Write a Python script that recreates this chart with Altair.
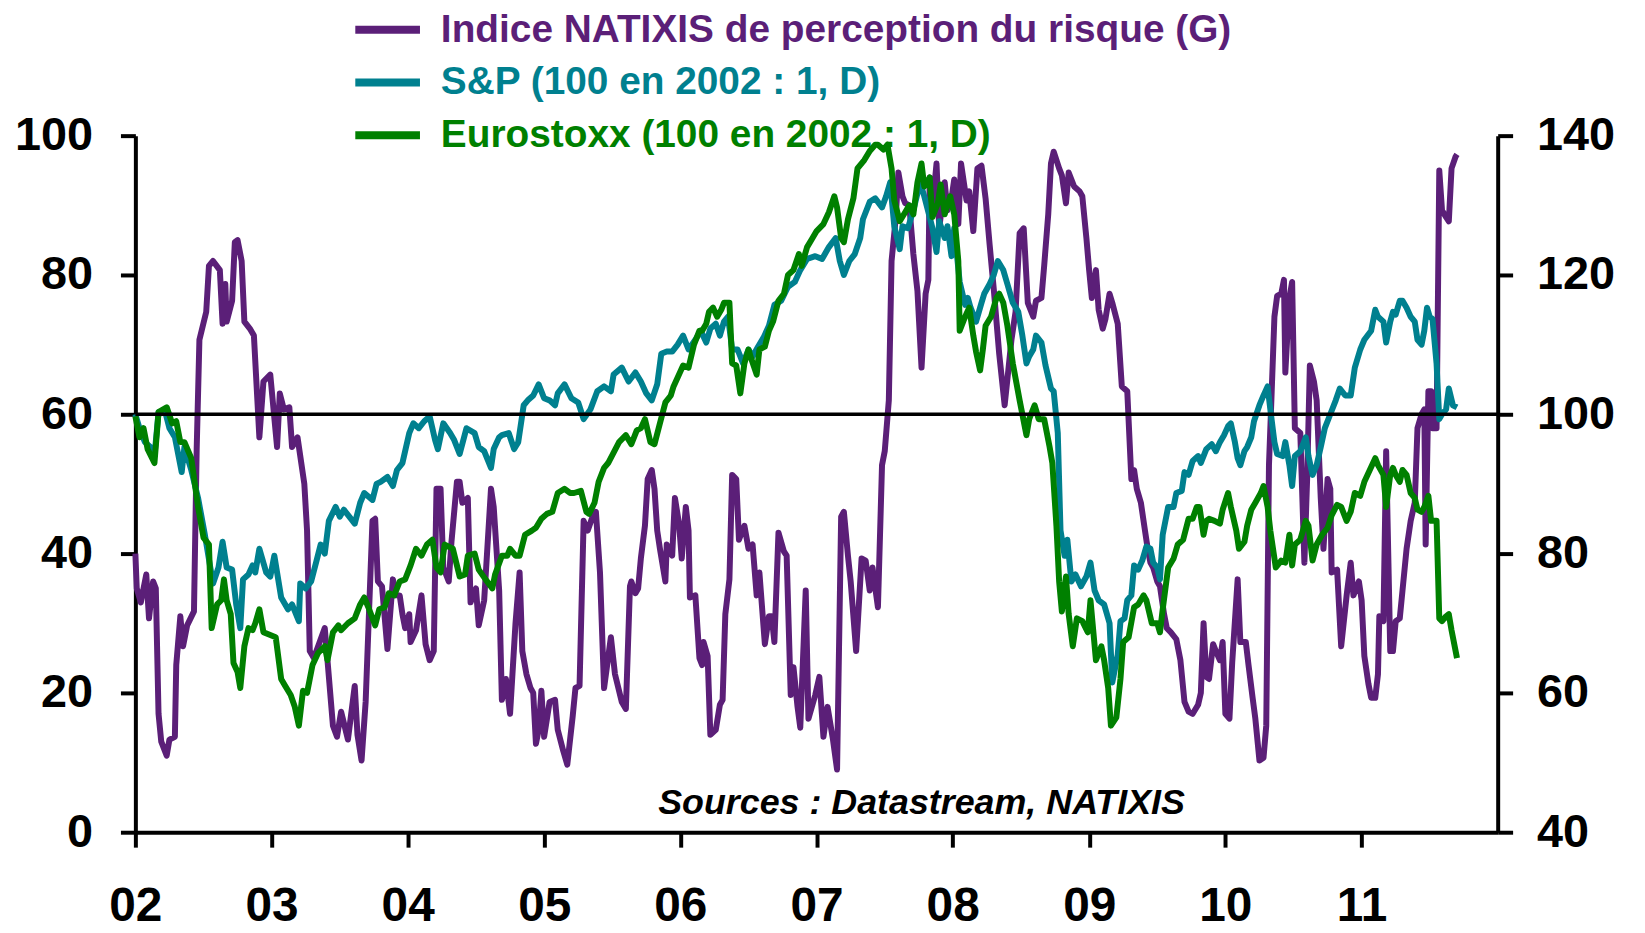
import altair as alt
import pandas as pd

FONT = "Liberation Sans"
SERIES = [
    "Indice NATIXIS de perception du risque (G)",
    "S&P (100 en 2002 : 1, D)",
    "Eurostoxx (100 en 2002 : 1, D)",
]
COLORS = ["#5B1F78", "#00808F", "#008000"]
SOURCE = "Sources : Datastream, NATIXIS"
YEAR_TICKS = list(range(2002, 2012))
LEFT_TICKS = [0, 20, 40, 60, 80, 100]
RIGHT_TICKS = [40, 60, 80, 100, 120, 140]

# (fractional year, value)
natixis = [
    (2002.00, 40), (2002.01, 35), (2002.04, 33), (2002.08, 37), (2002.10, 30.7), (2002.13, 36),
    (2002.15, 35), (2002.17, 17), (2002.19, 13), (2002.23, 11), (2002.25, 13.3), (2002.29, 13.7),
    (2002.30, 24), (2002.33, 31), (2002.35, 26.7), (2002.38, 29.7), (2002.43, 31.7), (2002.45, 55),
    (2002.47, 70.7), (2002.52, 74.7), (2002.54, 81.3), (2002.57, 82), (2002.62, 80.7), (2002.64, 73),
    (2002.66, 78.7), (2002.67, 73.3), (2002.71, 76.3), (2002.73, 84.7), (2002.75, 85), (2002.78, 82),
    (2002.80, 73.3), (2002.84, 72.3), (2002.87, 71.3), (2002.91, 56.7), (2002.94, 64.7), (2002.99, 65.7),
    (2003.04, 55.3), (2003.06, 63), (2003.09, 60.7), (2003.13, 61), (2003.15, 55.3), (2003.19, 56.7),
    (2003.24, 50), (2003.26, 43.3), (2003.28, 26), (2003.31, 25), (2003.39, 29.3), (2003.41, 24.7),
    (2003.45, 15.3), (2003.48, 13.7), (2003.51, 17.3), (2003.56, 13.3), (2003.61, 21), (2003.63, 14),
    (2003.66, 10.3), (2003.69, 18.7), (2003.74, 44.7), (2003.76, 45), (2003.78, 36), (2003.81, 35.3),
    (2003.85, 26.3), (2003.89, 36.3), (2003.91, 34), (2003.94, 34), (2003.96, 31.3), (2003.98, 29.3),
    (2004.01, 31.3), (2004.02, 27.3), (2004.06, 29), (2004.10, 34), (2004.13, 27), (2004.16, 24.7),
    (2004.19, 26), (2004.21, 49.3), (2004.24, 49.3), (2004.26, 38), (2004.30, 36), (2004.32, 41.7),
    (2004.36, 50.3), (2004.38, 50.3), (2004.40, 47.3), (2004.44, 48), (2004.46, 33), (2004.50, 35),
    (2004.52, 29.7), (2004.56, 33.3), (2004.61, 49.3), (2004.63, 46.7), (2004.67, 34.7), (2004.69, 19),
    (2004.72, 22), (2004.75, 17), (2004.79, 30), (2004.82, 37.3), (2004.84, 26), (2004.87, 22.7),
    (2004.90, 20.7), (2004.92, 20), (2004.94, 12.7), (2004.96, 14.7), (2004.98, 20.3), (2005.00, 13.7),
    (2005.04, 18.7), (2005.08, 19), (2005.10, 14.7), (2005.14, 11.7), (2005.17, 9.7), (2005.21, 16.7),
    (2005.23, 20.7), (2005.26, 21), (2005.29, 44.7), (2005.32, 43.3), (2005.35, 45), (2005.38, 46),
    (2005.41, 37.3), (2005.44, 20.7), (2005.49, 28), (2005.52, 22.7), (2005.57, 18.7), (2005.60, 17.7),
    (2005.63, 35.3), (2005.64, 36), (2005.67, 34.3), (2005.69, 35), (2005.71, 39.3), (2005.74, 44),
    (2005.76, 50.7), (2005.79, 52), (2005.81, 49.3), (2005.83, 43.3), (2005.85, 40.7), (2005.89, 36),
    (2005.90, 41.3), (2005.94, 39.7), (2005.96, 48), (2005.99, 44.3), (2006.01, 39.3), (2006.04, 46.7),
    (2006.06, 43.3), (2006.07, 33.7), (2006.11, 34), (2006.14, 25), (2006.16, 24), (2006.17, 27.3),
    (2006.20, 25.3), (2006.22, 14), (2006.26, 14.7), (2006.29, 18.3), (2006.31, 19), (2006.33, 31.3),
    (2006.36, 36.3), (2006.38, 51.3), (2006.41, 50.7), (2006.43, 42), (2006.47, 44), (2006.50, 40.7),
    (2006.53, 41.3), (2006.56, 34), (2006.58, 37.3), (2006.62, 27), (2006.65, 31), (2006.67, 31),
    (2006.69, 27.3), (2006.72, 43), (2006.76, 40.3), (2006.78, 39.7), (2006.81, 19.7), (2006.83, 23.7),
    (2006.86, 18), (2006.88, 15), (2006.92, 34.7), (2006.94, 16.3), (2006.99, 19.7), (2007.02, 22.3),
    (2007.05, 13.7), (2007.08, 18), (2007.12, 13.3), (2007.15, 9), (2007.18, 45.3), (2007.20, 46),
    (2007.23, 39.7), (2007.25, 36), (2007.29, 26), (2007.33, 39.3), (2007.36, 39), (2007.39, 34.7),
    (2007.41, 38), (2007.45, 32.3), (2007.48, 52.7), (2007.50, 54.7), (2007.53, 62), (2007.55, 82),
    (2007.58, 88), (2007.60, 94.7), (2007.63, 91.3), (2007.65, 90.3), (2007.68, 90), (2007.71, 83),
    (2007.74, 77.7), (2007.77, 66.7), (2007.80, 77.3), (2007.82, 79.3), (2007.83, 94), (2007.85, 89.7),
    (2007.88, 96), (2007.90, 86.7), (2007.94, 93.3), (2007.96, 89.3), (2007.99, 91), (2008.01, 93.7),
    (2008.04, 87.3), (2008.06, 96), (2008.10, 90.7), (2008.12, 92), (2008.15, 86.3), (2008.18, 95.3),
    (2008.21, 95.7), (2008.24, 91), (2008.27, 84.3), (2008.30, 78), (2008.34, 68.7), (2008.38, 61.3),
    (2008.40, 65), (2008.43, 70.7), (2008.46, 74.7), (2008.49, 86), (2008.52, 86.7), (2008.55, 76),
    (2008.59, 74), (2008.61, 76.3), (2008.65, 76.7), (2008.67, 81.3), (2008.70, 88.7), (2008.72, 96),
    (2008.74, 97.7), (2008.78, 95.3), (2008.80, 94.3), (2008.83, 90.3), (2008.85, 94.7), (2008.89, 92.7),
    (2008.93, 92), (2008.95, 91.3), (2008.98, 85.3), (2009.00, 80.7), (2009.02, 76.7), (2009.05, 80.7),
    (2009.07, 75), (2009.10, 72.3), (2009.12, 73.7), (2009.15, 77.3), (2009.17, 76), (2009.21, 73),
    (2009.24, 64), (2009.28, 63.3), (2009.31, 50.7), (2009.33, 52), (2009.35, 49.3), (2009.38, 47.3),
    (2009.41, 43.3), (2009.43, 40.7), (2009.45, 38.7), (2009.47, 38), (2009.50, 36), (2009.52, 35.3),
    (2009.55, 31.3), (2009.57, 29.3), (2009.60, 28.7), (2009.64, 27.7), (2009.67, 24.7), (2009.70, 18.7),
    (2009.73, 17.3), (2009.76, 17), (2009.80, 18.3), (2009.82, 20), (2009.84, 30), (2009.86, 22.3),
    (2009.88, 22), (2009.91, 27), (2009.93, 26), (2009.96, 24.7), (2009.98, 27.3), (2010.00, 17),
    (2010.03, 16.3), (2010.05, 24.3), (2010.09, 36.3), (2010.11, 27.3), (2010.15, 27.3), (2010.17, 24),
    (2010.20, 19.3), (2010.22, 16.3), (2010.25, 10.3), (2010.28, 10.7), (2010.30, 15.3), (2010.32, 52.7),
    (2010.34, 63.3), (2010.36, 74), (2010.38, 77), (2010.41, 77.3), (2010.43, 79.3), (2010.44, 66),
    (2010.47, 76.7), (2010.49, 79), (2010.51, 58), (2010.55, 57.3), (2010.58, 38.7), (2010.60, 50.7),
    (2010.62, 67), (2010.65, 64.7), (2010.67, 62), (2010.70, 48), (2010.72, 40.7), (2010.75, 50.7),
    (2010.77, 49.3), (2010.78, 37.3), (2010.82, 37.7), (2010.85, 26.7), (2010.89, 34), (2010.92, 38.7),
    (2010.94, 34), (2010.98, 36), (2011.00, 33.3), (2011.02, 25.3), (2011.05, 21.3), (2011.07, 19.3),
    (2011.10, 19.3), (2011.12, 22.7), (2011.13, 31), (2011.16, 30.3), (2011.18, 54.7), (2011.21, 26),
    (2011.23, 26), (2011.25, 30.3), (2011.28, 30.7), (2011.30, 34.7), (2011.33, 40.7), (2011.36, 44.7),
    (2011.39, 47.3), (2011.41, 58), (2011.44, 60), (2011.46, 60.7), (2011.47, 41.3), (2011.49, 63.3),
    (2011.51, 63.3), (2011.52, 58), (2011.55, 58), (2011.57, 95), (2011.59, 89.3), (2011.62, 88.3),
    (2011.64, 87.7), (2011.66, 95.3), (2011.69, 97), (2011.70, 97.3),
]

sp500 = [
    (2002.00, 100), (2002.03, 98), (2002.07, 96), (2002.11, 95.3), (2002.14, 94), (2002.17, 100.3),
    (2002.22, 100.3), (2002.25, 98), (2002.29, 96.7), (2002.34, 91.7), (2002.36, 95.3), (2002.41, 92),
    (2002.46, 88), (2002.51, 82.7), (2002.55, 78), (2002.57, 75.7), (2002.61, 78), (2002.64, 81.7),
    (2002.67, 78), (2002.71, 77.7), (2002.74, 72.7), (2002.77, 69.3), (2002.79, 76.3), (2002.83, 77),
    (2002.86, 78.3), (2002.88, 77.3), (2002.91, 80.7), (2002.96, 77.3), (2002.99, 76.7), (2003.02, 79.7),
    (2003.07, 73.7), (2003.12, 72), (2003.15, 72.7), (2003.20, 70.3), (2003.21, 75.7), (2003.25, 75),
    (2003.29, 76), (2003.33, 79), (2003.36, 81.3), (2003.39, 80), (2003.42, 84.7), (2003.47, 86.7),
    (2003.50, 85.3), (2003.53, 86.3), (2003.61, 84.3), (2003.65, 87.3), (2003.68, 88.7), (2003.74, 87.7),
    (2003.77, 90), (2003.80, 90.3), (2003.85, 91), (2003.89, 89.7), (2003.92, 92), (2003.96, 93),
    (2004.01, 97.3), (2004.04, 98.7), (2004.08, 98), (2004.12, 99), (2004.16, 99.7), (2004.20, 96.3),
    (2004.22, 95), (2004.26, 98.7), (2004.31, 97.3), (2004.34, 96.3), (2004.38, 94.3), (2004.43, 98),
    (2004.49, 97.3), (2004.52, 95.3), (2004.56, 94.7), (2004.61, 92.3), (2004.63, 95), (2004.67, 96.7),
    (2004.69, 97), (2004.74, 97.3), (2004.78, 95), (2004.81, 96), (2004.85, 101.3), (2004.88, 102),
    (2004.92, 102.7), (2004.96, 104.3), (2005.00, 102.3), (2005.04, 102), (2005.08, 101.3), (2005.10, 103),
    (2005.15, 104.3), (2005.20, 102.3), (2005.25, 101.7), (2005.29, 99.3), (2005.34, 100.7), (2005.39, 103.3),
    (2005.44, 104), (2005.49, 103.3), (2005.51, 105.7), (2005.57, 106.7), (2005.62, 104.7), (2005.67, 106),
    (2005.71, 104.7), (2005.75, 103), (2005.79, 102), (2005.83, 104.3), (2005.86, 108.7), (2005.90, 109),
    (2005.94, 109), (2005.98, 110), (2006.02, 111.3), (2006.06, 109.3), (2006.11, 110.7), (2006.15, 112),
    (2006.19, 110.3), (2006.22, 112.3), (2006.26, 113), (2006.29, 111.3), (2006.32, 113.3), (2006.35, 114),
    (2006.38, 109.3), (2006.42, 109.3), (2006.46, 107.3), (2006.50, 109.3), (2006.53, 108.3), (2006.57, 109.7),
    (2006.61, 111), (2006.65, 112.7), (2006.69, 115.7), (2006.74, 116.3), (2006.79, 118.3), (2006.84, 119),
    (2006.88, 120.7), (2006.93, 122.3), (2006.99, 122.7), (2007.04, 122.3), (2007.09, 124), (2007.14, 125.3),
    (2007.17, 122), (2007.20, 120), (2007.24, 122), (2007.28, 123), (2007.32, 125.3), (2007.34, 128),
    (2007.39, 130.5), (2007.43, 131), (2007.48, 129.7), (2007.51, 131.3), (2007.54, 133.3), (2007.57, 127),
    (2007.61, 123.7), (2007.63, 127), (2007.67, 126.7), (2007.71, 129.3), (2007.76, 133.3), (2007.79, 131.3),
    (2007.83, 128.3), (2007.85, 126.7), (2007.88, 123.3), (2007.90, 127.7), (2007.94, 125.3), (2007.96, 127),
    (2007.99, 122.7), (2008.01, 126.7), (2008.05, 119), (2008.09, 115.7), (2008.11, 116.7), (2008.13, 115.3),
    (2008.17, 113.3), (2008.21, 116), (2008.23, 117.3), (2008.27, 118.7), (2008.30, 120), (2008.33, 122),
    (2008.37, 120.7), (2008.40, 118.7), (2008.44, 116), (2008.48, 114.7), (2008.51, 111.3), (2008.54, 107.3),
    (2008.56, 108.3), (2008.59, 109.3), (2008.61, 111.3), (2008.65, 110.3), (2008.68, 107), (2008.72, 103.7),
    (2008.74, 103.3), (2008.77, 97.3), (2008.79, 83.3), (2008.82, 79.7), (2008.84, 82), (2008.87, 76),
    (2008.90, 77), (2008.94, 75.3), (2008.98, 76.7), (2009.01, 78.7), (2009.04, 74.7), (2009.07, 73.3),
    (2009.11, 72.7), (2009.15, 70), (2009.17, 61.5), (2009.21, 65.5), (2009.23, 70.3), (2009.26, 70.7),
    (2009.28, 73.3), (2009.31, 74), (2009.33, 78.3), (2009.36, 77.7), (2009.39, 79), (2009.42, 81),
    (2009.45, 80.7), (2009.47, 78.7), (2009.50, 78), (2009.52, 76.3), (2009.54, 82.7), (2009.58, 86.7),
    (2009.62, 86.7), (2009.64, 88.7), (2009.68, 89), (2009.70, 91.7), (2009.73, 91.3), (2009.76, 93.3),
    (2009.80, 94), (2009.82, 93), (2009.86, 95), (2009.90, 95.7), (2009.93, 94.7), (2009.96, 96),
    (2009.99, 97), (2010.02, 98.3), (2010.04, 98.7), (2010.07, 96), (2010.09, 93.7), (2010.11, 92.7),
    (2010.14, 94.7), (2010.16, 95.3), (2010.19, 96.7), (2010.21, 99), (2010.25, 101.3), (2010.28, 102.7),
    (2010.31, 104), (2010.33, 100.7), (2010.36, 96), (2010.38, 94.3), (2010.42, 94), (2010.44, 96),
    (2010.47, 92.7), (2010.49, 89.7), (2010.51, 94), (2010.55, 94.7), (2010.59, 96.7), (2010.61, 94),
    (2010.64, 91.3), (2010.67, 92.7), (2010.70, 95.3), (2010.73, 98), (2010.77, 100), (2010.81, 102),
    (2010.84, 103.7), (2010.88, 102.7), (2010.92, 102.7), (2010.95, 106.7), (2010.99, 109.3), (2011.02, 110.7),
    (2011.07, 112), (2011.10, 115), (2011.12, 114), (2011.16, 113.3), (2011.18, 110.3), (2011.21, 113.3),
    (2011.23, 114.7), (2011.25, 114.3), (2011.28, 116.3), (2011.30, 116.3), (2011.33, 115.3), (2011.36, 114),
    (2011.39, 113.3), (2011.41, 110.7), (2011.44, 110), (2011.46, 112), (2011.48, 115.3), (2011.50, 114),
    (2011.52, 113.7), (2011.55, 107.3), (2011.57, 99.3), (2011.59, 100), (2011.62, 100.7), (2011.64, 103.7),
    (2011.67, 101.3), (2011.70, 101),
]

eurostoxx = [
    (2002.00, 99.7), (2002.03, 96.7), (2002.06, 98), (2002.09, 95), (2002.14, 93), (2002.17, 100.3),
    (2002.23, 101), (2002.27, 98.7), (2002.30, 99), (2002.33, 96), (2002.36, 96), (2002.41, 93.7),
    (2002.46, 86.7), (2002.50, 82.3), (2002.54, 81.3), (2002.56, 69.3), (2002.60, 72.7), (2002.63, 73.3),
    (2002.65, 76.3), (2002.67, 73.3), (2002.70, 71.3), (2002.72, 64.3), (2002.75, 63), (2002.77, 60.7),
    (2002.80, 66.7), (2002.83, 69.3), (2002.86, 69), (2002.88, 70), (2002.91, 72), (2002.94, 68.7),
    (2002.99, 68.3), (2003.03, 68), (2003.07, 62), (2003.10, 61), (2003.14, 59.7), (2003.17, 58),
    (2003.20, 55.3), (2003.23, 60.3), (2003.26, 60), (2003.30, 64), (2003.34, 65.7), (2003.39, 66.7),
    (2003.41, 64.7), (2003.45, 68.7), (2003.49, 69.7), (2003.51, 69), (2003.56, 70), (2003.61, 70.7),
    (2003.65, 72.7), (2003.68, 73.7), (2003.71, 72.3), (2003.76, 69.7), (2003.79, 72), (2003.83, 72.3),
    (2003.86, 74.3), (2003.90, 74), (2003.94, 76), (2003.98, 76.3), (2004.02, 78.3), (2004.06, 80.7),
    (2004.10, 79.7), (2004.14, 81.3), (2004.18, 82), (2004.21, 78), (2004.24, 77.3), (2004.27, 81.3),
    (2004.33, 80.7), (2004.38, 76.7), (2004.42, 77), (2004.44, 79.7), (2004.49, 80), (2004.52, 77.7),
    (2004.57, 76.3), (2004.62, 75), (2004.64, 77), (2004.69, 79.7), (2004.73, 79.7), (2004.75, 80.7),
    (2004.79, 79.7), (2004.82, 79.7), (2004.86, 82.7), (2004.91, 83.3), (2004.94, 83.7), (2004.98, 85),
    (2005.02, 85.7), (2005.06, 86), (2005.10, 88.7), (2005.15, 89.3), (2005.19, 88.7), (2005.22, 88.7),
    (2005.27, 89), (2005.31, 86), (2005.33, 85.7), (2005.37, 87.3), (2005.40, 90.3), (2005.44, 92.3),
    (2005.47, 93), (2005.51, 94.5), (2005.55, 96), (2005.60, 97), (2005.64, 95.7), (2005.68, 97.7),
    (2005.71, 98), (2005.74, 99.3), (2005.78, 96), (2005.81, 95.7), (2005.85, 98.7), (2005.89, 101.7),
    (2005.93, 102.7), (2005.95, 104), (2005.99, 105.7), (2006.02, 107), (2006.06, 106.7), (2006.10, 110),
    (2006.14, 112), (2006.16, 112), (2006.19, 113), (2006.21, 114.7), (2006.24, 115.3), (2006.27, 114),
    (2006.30, 115), (2006.32, 116), (2006.36, 116), (2006.38, 107.3), (2006.41, 107), (2006.44, 103),
    (2006.47, 107.3), (2006.50, 109.3), (2006.52, 108), (2006.56, 105.7), (2006.58, 109.3), (2006.62, 109.7),
    (2006.65, 112), (2006.68, 113.3), (2006.72, 116.3), (2006.76, 117.3), (2006.79, 120), (2006.83, 120.7),
    (2006.87, 123), (2006.89, 121.3), (2006.93, 124), (2006.97, 125.3), (2007.00, 126.3), (2007.05, 127.3),
    (2007.09, 129), (2007.13, 131.3), (2007.15, 129.7), (2007.18, 125.3), (2007.20, 124.7), (2007.23, 128),
    (2007.27, 131), (2007.30, 135.3), (2007.35, 136.5), (2007.39, 137.8), (2007.43, 138.7), (2007.45, 138.7),
    (2007.49, 138), (2007.52, 138.7), (2007.55, 135.3), (2007.57, 130.7), (2007.61, 127.7), (2007.65, 129),
    (2007.68, 130), (2007.71, 128.7), (2007.74, 133.3), (2007.77, 136), (2007.79, 132.7), (2007.83, 134),
    (2007.85, 128.3), (2007.89, 130.3), (2007.91, 133), (2007.94, 128.7), (2007.98, 131.3), (2008.01, 128.7),
    (2008.04, 122), (2008.05, 112), (2008.09, 114), (2008.12, 115.3), (2008.15, 111.3), (2008.17, 109),
    (2008.20, 106.3), (2008.22, 109.3), (2008.24, 112.7), (2008.28, 114), (2008.32, 116.7), (2008.34, 117.3),
    (2008.37, 116), (2008.40, 112.7), (2008.44, 107.3), (2008.49, 102), (2008.54, 97), (2008.56, 99.3),
    (2008.60, 101.3), (2008.63, 99.3), (2008.67, 99.3), (2008.71, 95.3), (2008.73, 93), (2008.76, 84),
    (2008.78, 76), (2008.80, 71.7), (2008.83, 76.7), (2008.85, 71.3), (2008.88, 66.7), (2008.91, 70.7),
    (2008.95, 70.3), (2008.99, 68.7), (2009.01, 73.3), (2009.05, 64.7), (2009.09, 66.7), (2009.11, 64.7),
    (2009.14, 60.7), (2009.16, 55.3), (2009.20, 56.5), (2009.23, 62), (2009.25, 67.3), (2009.29, 68),
    (2009.33, 72.3), (2009.36, 72.7), (2009.40, 74), (2009.42, 73.3), (2009.46, 70), (2009.50, 70),
    (2009.52, 68.7), (2009.54, 72), (2009.58, 78), (2009.62, 79.3), (2009.65, 81.3), (2009.69, 82),
    (2009.73, 85), (2009.76, 85), (2009.79, 86.7), (2009.81, 86.7), (2009.84, 82.7), (2009.86, 84.7),
    (2009.88, 85), (2009.92, 84.7), (2009.96, 84.3), (2009.98, 86.3), (2010.02, 88.7), (2010.04, 86.7),
    (2010.08, 83.3), (2010.10, 80.7), (2010.14, 81.7), (2010.16, 84), (2010.19, 86.3), (2010.22, 87.3),
    (2010.26, 88.7), (2010.28, 89.7), (2010.31, 86.7), (2010.33, 83.3), (2010.37, 78), (2010.41, 79),
    (2010.44, 78.7), (2010.47, 82.7), (2010.49, 78.3), (2010.51, 81.3), (2010.55, 82), (2010.59, 84.7),
    (2010.61, 84), (2010.64, 79), (2010.67, 81.3), (2010.71, 82.7), (2010.75, 83.7), (2010.78, 85.5),
    (2010.82, 87), (2010.85, 86.7), (2010.89, 84.7), (2010.92, 86), (2010.95, 88.7), (2010.99, 88.3),
    (2011.02, 90.3), (2011.06, 92), (2011.10, 93.7), (2011.12, 92.7), (2011.16, 91.3), (2011.18, 86.7),
    (2011.21, 91.3), (2011.23, 92.3), (2011.25, 91.3), (2011.28, 90.3), (2011.30, 92), (2011.33, 91.3),
    (2011.36, 88.7), (2011.39, 88), (2011.41, 86.3), (2011.44, 86), (2011.46, 86.7), (2011.49, 88.3),
    (2011.51, 84.7), (2011.55, 84.7), (2011.57, 70.7), (2011.59, 70.3), (2011.62, 71), (2011.64, 71.3),
    (2011.66, 69), (2011.70, 65),
]


def frame(pairs, name):
    df = pd.DataFrame(pairs, columns=["t", "value"])
    df["date"] = pd.Timestamp("2002-01-01") + pd.to_timedelta((df["t"] - 2002) * 365.25, unit="D")
    df["series"] = name
    return df[["date", "value", "series"]]


left_df = frame(natixis, SERIES[0])
right_df = pd.concat([frame(sp500, SERIES[1]), frame(eurostoxx, SERIES[2])], ignore_index=True)

axis_style = dict(
    domainColor="black", domainWidth=4, tickColor="black", tickWidth=4, tickSize=15,
    labelFont=FONT, labelFontWeight="bold", labelColor="black", grid=False, title=None,
)

x_enc = alt.X(
    "date:T",
    scale=alt.Scale(domain=[alt.DateTime(year=2002, month=1, date=1),
                            alt.DateTime(year=2012, month=1, date=1)]),
    axis=alt.Axis(values=[alt.DateTime(year=y, month=1, date=1) for y in YEAR_TICKS],
                  format="%y", labelFontSize=48, labelBaseline="alphabetic", labelPadding=74,
                  labelFlush=False, labelOverlap=False, **axis_style),
)

color_enc = alt.Color(
    "series:N",
    scale=alt.Scale(domain=SERIES, range=COLORS),
    legend=alt.Legend(
        title=None, orient="none", legendX=233, legendY=-127, direction="vertical",
        symbolType="M-2,0H2", symbolSize=1056, symbolStrokeWidth=8,
        labelFont=FONT, labelFontSize=39, labelFontWeight="bold", labelLimit=2000,
        labelOffset=33, rowPadding=12, padding=0,
        labelColor={"expr": "scale('color', datum.value)"},
    ),
)

left_lines = alt.Chart(left_df).mark_line(strokeWidth=6, strokeJoin="round").encode(
    x=x_enc,
    y=alt.Y("value:Q", scale=alt.Scale(domain=[0, 100]),
            axis=alt.Axis(orient="left", values=LEFT_TICKS, labelFontSize=47, labelPadding=28, **axis_style)),
    color=color_enc,
)

right_lines = alt.Chart(right_df).mark_line(strokeWidth=6, strokeJoin="round").encode(
    x=x_enc,
    y=alt.Y("value:Q", scale=alt.Scale(domain=[40, 140]),
            axis=alt.Axis(orient="right", values=RIGHT_TICKS, labelFontSize=47, labelPadding=24, **axis_style)),
    color=color_enc,
)

ref_rule = alt.Chart(pd.DataFrame({"level": [100]})).mark_rule(color="black", strokeWidth=3.5).encode(
    y=alt.Y("level:Q")
)

source_text = alt.Chart(pd.DataFrame({"txt": [SOURCE]})).mark_text(
    font=FONT, fontSize=36, fontWeight="bold", fontStyle="italic", color="black",
    align="center", baseline="middle",
).encode(text="txt:N", x=alt.value(790), y=alt.value(671))

right_group = alt.layer(right_lines, ref_rule, source_text)

chart = alt.layer(left_lines, right_group).resolve_scale(y="independent").properties(
    width=1369, height=700,
    autosize=alt.AutoSizeParams(type="none"),
    padding={"left": 128, "top": 126, "right": 140, "bottom": 99},
    background="white",
).configure_view(strokeWidth=0)

chart.save("out.html", embed_options={"renderer": "svg", "actions": False})
